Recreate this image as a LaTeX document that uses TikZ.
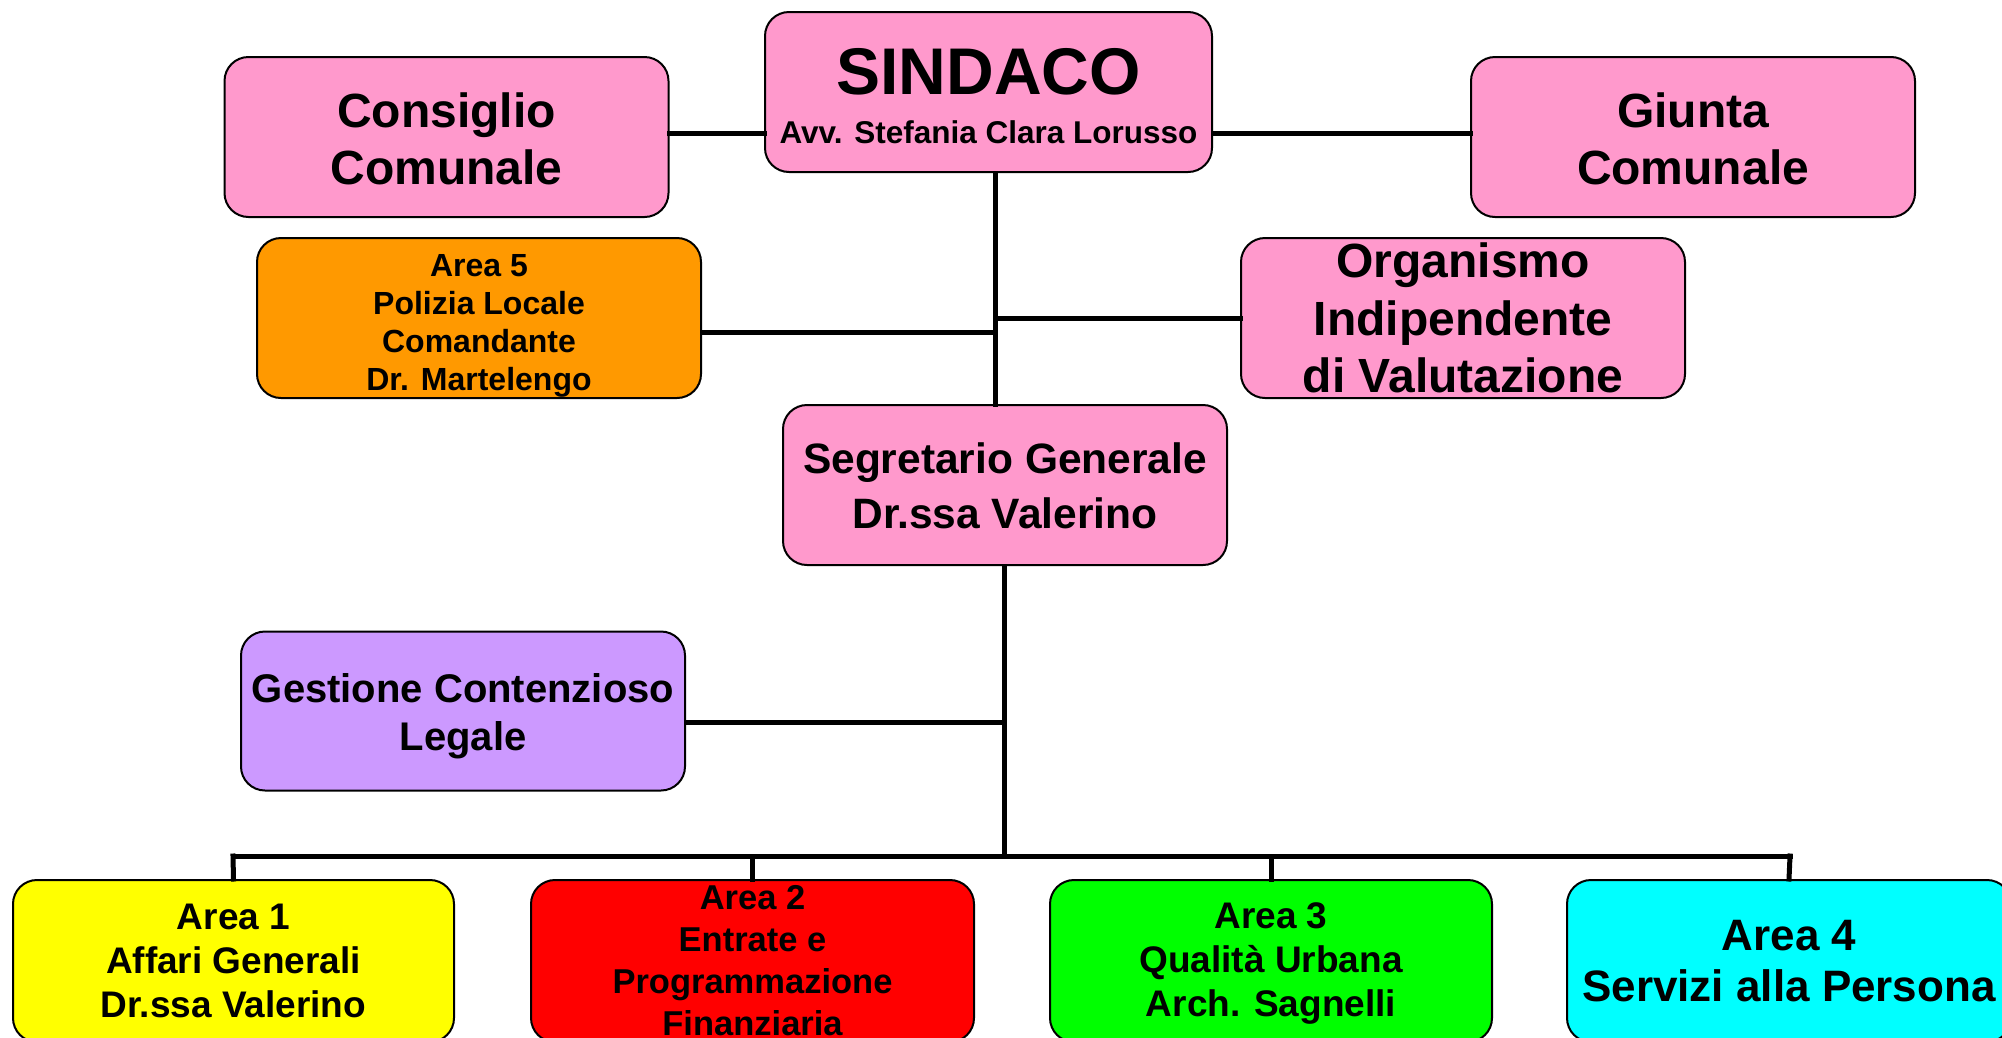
\documentclass[tikz,border=0pt]{standalone}
\usepackage{fontspec}
\setmainfont{Liberation Sans}
\newcommand\myfs[2]{\fontsize{#1}{#2}\selectfont}
% push a node's text down by #1 (adds 2*#1 of height above the first line)
\newcommand\dn[1]{\rule{0pt}{\dimexpr\fontcharht\font`A+#1*2\relax}}
\definecolor{cpink}{HTML}{FF99CC}
\definecolor{corange}{HTML}{FF9900}
\definecolor{clav}{HTML}{CC99FF}
\definecolor{cyel}{HTML}{FFFF00}
\definecolor{cred}{HTML}{FF0000}
\definecolor{cgreen}{HTML}{00FF00}
\definecolor{ccyan}{HTML}{00FFFF}
\begin{document}
\begin{tikzpicture}[x=1pt,y=-1pt,
  box/.style={draw=black, line width=2pt, rounded corners=24pt, align=center, inner sep=0pt,
    minimum width=444pt, minimum height=160pt},
  conn/.style={line width=5pt, line cap=rect}]
\useasboundingbox (0,0) rectangle (2002,1037);
\clip (0,0) rectangle (2002,1037);
\fill[white] (0,0) rectangle (2002,1037);
% junction coordinates
\coordinate (spA) at (995,0);
\coordinate (spB) at (1004,0);
\coordinate (jc) at (0,133);
\coordinate (j5) at (995,332);
\coordinate (jg) at (1004,722);
\coordinate (busL) at (233,856);
\coordinate (busR) at (1790,856);

% boxes
\node[box, fill=cpink, minimum width=447pt, font=\bfseries\myfs{31.5}{49}] (sind) at (988.5,92)
  {{\myfs{66}{66}\dn{4.5pt}SINDACO}\\Avv. Stefania Clara Lorusso};
\node[box, fill=cpink, font=\bfseries\myfs{48}{57}] (cons) at (446.5,137) {\dn{3pt}Consiglio\\Comunale};
\node[box, fill=cpink, font=\bfseries\myfs{48}{57}] (giun) at (1693,137) {\dn{3pt}Giunta\\Comunale};
\node[box, fill=corange, font=\bfseries\myfs{32}{38}] (a5) at (479,318)
  {\dn{8pt}Area 5\\Polizia Locale\\Comandante\\Dr. Martelengo};
\node[box, fill=cpink, font=\bfseries\myfs{48}{57.5}] (oiv) at (1463,318)
  {Organismo\\Indipendente\\di Valutazione};
\node[box, fill=cpink, font=\bfseries\myfs{42.5}{55}] (segr) at (1005,485)
  {\dn{2pt}Segretario Generale\\Dr.ssa Valerino};
\node[box, fill=clav, minimum height=159pt, font=\bfseries\myfs{40}{48}] (gest) at (463,711)
  {\dn{6pt}Gestione Contenzioso\\Legale};
\node[box, fill=cyel, minimum width=441pt, minimum height=162pt, font=\bfseries\myfs{37}{44}] (ar1) at (233.5,961)
  {Area 1\\Affari Generali\\Dr.ssa Valerino};
\node[box, fill=cred, minimum width=443pt, minimum height=162pt, font=\bfseries\myfs{34.5}{42}] (ar2) at (752.5,961)
  {Area 2\\Entrate e\\Programmazione\\Finanziaria};
\node[box, fill=cgreen, minimum width=442pt, minimum height=162pt, font=\bfseries\myfs{37}{44}] (ar3) at (1271,961)
  {\dn{2.5pt}Area 3\\Qualità Urbana\\Arch. Sagnelli};
\node[box, fill=ccyan, minimum width=444pt, minimum height=162pt, font=\bfseries\myfs{44}{51}] (ar4) at (1789,961)
  {Area 4\\Servizi alla Persona};

% connectors
\draw[conn] (cons.east |- jc) -- (sind.west |- jc);
\draw[conn] (sind.east |- jc) -- (giun.west |- jc);
\draw[conn] (sind.south -| spA) -- (segr.north -| spA);
\draw[conn] (a5.east |- j5) -- (j5);
\draw[conn] (oiv.west) -- (oiv.west -| spA);
\draw[conn] (segr.south -| spB) -- (busL -| spB);
\draw[conn] (gest.east |- jg) -- (jg);
\draw[conn] (busL) -- (busR);
\draw[conn] (busL) -- (ar1.north);
\draw[conn] (busL -| ar2.north) -- (ar2.north);
\draw[conn] (busL -| ar3.north) -- (ar3.north);
\draw[conn] (busR) -- (ar4.north);
\end{tikzpicture}
\end{document}
